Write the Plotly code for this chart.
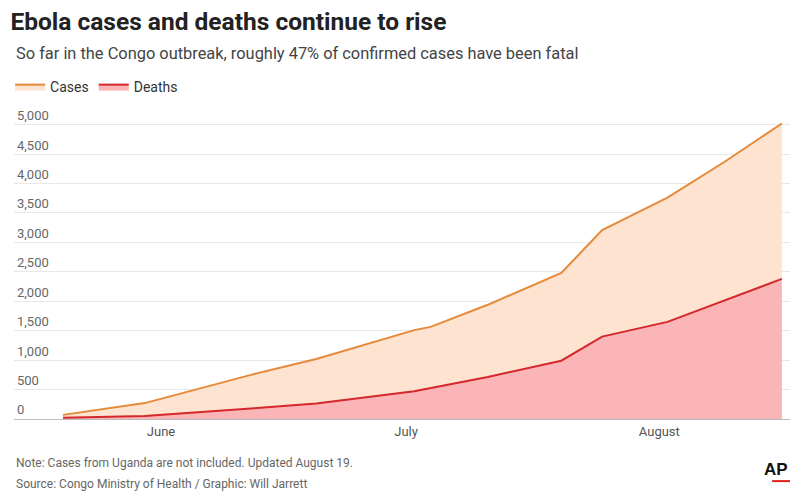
import plotly.graph_objects as go

# --- Data ---
dates = ["2019-05-20", "2019-05-30", "2019-06-12", "2019-06-20", "2019-07-02", "2019-07-04",
         "2019-07-11", "2019-07-20", "2019-07-25", "2019-08-02", "2019-08-09", "2019-08-16"]
cases = [70, 270, 750, 1020, 1510, 1565, 1940, 2480, 3210, 3760, 4370, 5020]
deaths = [20, 50, 180, 265, 470, 525, 715, 990, 1400, 1650, 2020, 2380]

y_ticks = [0, 500, 1000, 1500, 2000, 2500, 3000, 3500, 4000, 4500, 5000]
y_labels = [f"{v:,}" for v in y_ticks]
month_ticks = ["2019-06-01", "2019-07-01", "2019-08-01"]
month_labels = ["June", "July", "August"]

font = "Roboto, Lato, sans-serif"

fig = go.Figure()
fig.add_trace(go.Scatter(
    x=dates, y=cases, name="Cases", mode="lines",
    line=dict(color="#e58a3a", width=2), fill="tozeroy", fillcolor="#fde3d0",
))
fig.add_trace(go.Scatter(
    x=dates, y=deaths, name="Deaths", mode="lines",
    line=dict(color="#d3282c", width=2), fill="tozeroy", fillcolor="#fcb5b7",
))

fig.update_layout(
    width=799, height=500,
    margin=dict(l=2, r=17, t=99, b=89),
    paper_bgcolor="white", plot_bgcolor="white",
    font=dict(family=font, color="#555"),
    title=dict(text="<b>Ebola cases and deaths continue to rise</b>",
               x=0.003, xanchor="left", y=0.974, yanchor="middle",
               font=dict(size=24.5, color="#222", family=font)),
    legend=dict(orientation="h", x=-0.005, xanchor="left", y=1.064, yanchor="middle",
                font=dict(size=14, color="#333"), itemwidth=30,
                tracegroupgap=0, bgcolor="rgba(0,0,0,0)"),
    xaxis=dict(range=["2019-05-14", "2019-08-17"], tickvals=month_ticks, ticktext=month_labels,
               showgrid=False, showline=True, linecolor="#bbb", ticks="",
               tickfont=dict(size=13, color="#555")),
    yaxis=dict(range=[0, 5300], tickvals=y_ticks, ticktext=y_labels,
               ticklabelposition="inside top", showgrid=True, gridcolor="#e8e8e8",
               zeroline=False, tickfont=dict(size=13, color="#666")),
)

fig.add_annotation(text="So far in the Congo outbreak, roughly 47% of confirmed cases have been fatal",
                   xref="paper", yref="paper", x=0, y=1.173, xanchor="left", yanchor="middle",
                   showarrow=False, font=dict(size=16.4, color="#444"))
fig.add_annotation(text="Note: Cases from Uganda are not included. Updated August 19.",
                   xref="paper", yref="paper", x=0, y=-0.141, xanchor="left", yanchor="middle",
                   showarrow=False, font=dict(size=12, color="#666"))
fig.add_annotation(text="Source: Congo Ministry of Health / Graphic: Will Jarrett",
                   xref="paper", yref="paper", x=0, y=-0.208, xanchor="left", yanchor="middle",
                   showarrow=False, font=dict(size=12, color="#666"))
fig.add_annotation(text="<b>AP</b>", xref="paper", yref="paper", x=1.0, y=-0.163,
                   xanchor="right", yanchor="middle", showarrow=False,
                   font=dict(size=17, color="#111", family="Liberation Sans, Arial"))
fig.add_shape(type="line", xref="paper", yref="paper", x0=0.977, x1=1.0, y0=-0.199, y1=-0.199,
              line=dict(color="#e0201f", width=2))

fig.write_html("out.html")
